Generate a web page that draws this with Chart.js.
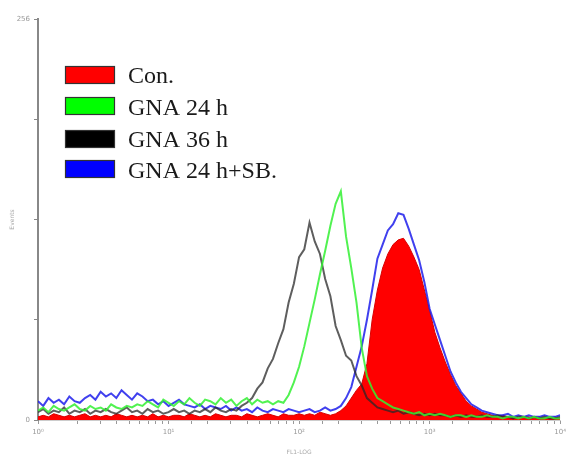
<!DOCTYPE html>
<html><head><meta charset="utf-8">
<style>html,body{margin:0;padding:0;background:#fff;}#wrap{width:570px;height:456px;position:relative;}</style>
<script src="https://cdn.jsdelivr.net/npm/chart.js@4/dist/chart.umd.min.js"></script>
</head><body><div id="wrap"><canvas id="c" width="570" height="456"></canvas></div>
<script>
// Series names (legend order)
const seriesNames = ['Con.', 'GNA 24 h', 'GNA 36 h', 'GNA 24 h+SB.'];
// Log-channel spacing: one value every 0.04 decade from 10^0 to 10^4 (101 channels)
const channelStep = 0.04;
const decadeTicks = [1, 10, 100, 1000, 10000];
const decadeLabels = ['10\u2070', '10\u00B9', '10\u00B2', '10\u00B3', '10\u2074'];
const yTickLabels = [0, 256];

const con = [
 2,3,2,4,3,2,3,2,3,4, 2,3,2,3,2,4,3,2,3,2, 3,2,4,2,3,2,3,3,2,4,
 3,2,3,2,4,3,2,3,3,2, 4,3,2,3,4,3,2,4,3,3, 4,3,4,3,5,4,3,
 4,6,9,14,19,23,36,64,83,97, 106,112,115,116,111,104,96,83,70,56, 46,37,29,22,17,12,9,7,5,4,
 3,2,3,2,2,1,2,2,1,2,1,1,2,1
];
const gna24 = [
 6,8,5,9,7,6,8,10,7,6,9,7,8,6,10,8,7,9,8,10,
 9,12,10,8,13,11,9,12,10,14,11,9,13,12,10,14,11,13,9,12,14,10,13,11,12,10,12,
 11,16,24,34,47,62,77,93,108,124,138,146,117,97,75,46,28,20,14,12,10,8,7,6,5,
 4,5,3,4,3,4,3,2,3,3,2,3,2,2,3,2,2,1,2,2,1,2,1,2,1,1,2,1,1
];
const gna36 = [
 5,7,4,6,5,8,4,6,5,7, 4,6,5,7,5,4,6,8,5,6, 4,7,5,6,4,5,7,5,6,4, 6,5,7,5,8,6,5,7,6,9,
 11,14,20,24,33,39,49,58,75,87,104,109,126,114,106,90,79,60,51,41,38,28,22,14,11,8,7,6,
 5,6,4,5,4,3,4,3,4,3,3,2,3,2,3,2,2,3,2,2,3,2,2,1,2,2,1,2,1,2,1,1,2
];
const gna24sb = [
 12,9,14,11,13,10,15,12,11,14,
 16,13,18,15,17,14,19,16,13,17,15,12,
 13,10,12,9,11,13,10,9,
 8,10,7,9,8,7,9,6,8,
 6,7,5,8,6,5,7,6,5,7,6,5,6,7,5,6,8,6,7,9,
 14,21,34,47,64,83,103,112,121,125,132,131,122,112,102,88,71,61,51,41,31,24,18,14,10,8,6,5,
 4,3,3,4,2,3,2,3,2,2,3,2,2,3
];

const channels = con.map((_, i) => Math.pow(10, i * channelStep));
const toPts = arr => arr.map((v, i) => ({x: channels[i], y: v}));

const legendColors = ['#ff0000', '#00ff00', '#000000', '#0000ff'];

const legendPlugin = {
  id: 'boxLegend',
  afterDraw(chart) {
    const ctx = chart.ctx;
    const boxX = 65, boxW = 50, boxH = 18;
    const boxTops = [66, 97, 130, 160];
    const baselines = [83, 115, 147, 178];
    ctx.save();
    seriesNames.forEach((name, i) => {
      ctx.fillStyle = legendColors[i];
      ctx.fillRect(boxX, boxTops[i], boxW, boxH);
      ctx.strokeStyle = '#333';
      ctx.lineWidth = 1.2;
      ctx.strokeRect(boxX + 0.5, boxTops[i] + 0.5, boxW - 1, boxH - 1);
      ctx.fillStyle = '#1a1a1a';
      ctx.font = '24px "Liberation Serif", "Times New Roman", serif';
      ctx.textBaseline = 'alphabetic';
      ctx.textAlign = 'left';
      ctx.fillText(name, 128, baselines[i]);
    });
    ctx.restore();
  }
};

new Chart(document.getElementById('c'), {
  type: 'line',
  data: {
    datasets: [
      { label: seriesNames[0], data: toPts(con), borderColor: '#d80000', backgroundColor: '#ff0000',
        fill: 'origin', borderWidth: 1, pointRadius: 0, tension: 0, order: 4 },
      { label: seriesNames[1], data: toPts(gna24), borderColor: 'rgba(50,240,50,0.85)',
        fill: false, borderWidth: 2, pointRadius: 0, tension: 0, order: 1 },
      { label: seriesNames[2], data: toPts(gna36), borderColor: 'rgba(40,40,40,0.75)',
        fill: false, borderWidth: 2, pointRadius: 0, tension: 0, order: 2 },
      { label: seriesNames[3], data: toPts(gna24sb), borderColor: 'rgba(30,30,235,0.85)',
        fill: false, borderWidth: 2, pointRadius: 0, tension: 0, order: 3 }
    ]
  },
  options: {
    responsive: false,
    animation: false,
    devicePixelRatio: 1,
    layout: { padding: { left: 0, right: 4, top: 19, bottom: 0 } },
    plugins: { legend: { display: false }, tooltip: { enabled: false } },
    scales: {
      x: {
        type: 'logarithmic', min: 1, max: 10000, position: 'bottom',
        afterFit: s => { s.height = 36; },
        ticks: {
          autoSkip: false, maxRotation: 0, minRotation: 0, padding: 4,
          color: '#999', font: { size: 7, family: 'DejaVu Sans' },
          callback: function(v) {
            const k = decadeTicks.indexOf(Number(v));
            return k >= 0 ? decadeLabels[k] : '';
          }
        },
        grid: { drawOnChartArea: false, drawTicks: true, tickLength: 4, color: '#999' },
        border: { display: true, color: '#ccc', width: 1 },
        title: { display: true, text: 'FL1-LOG', color: '#aaa', font: { size: 6, family: 'DejaVu Sans' }, padding: { top: 2, bottom: 0 } }
      },
      y: {
        min: 0, max: 256,
        afterFit: s => { s.width = 38; },
        ticks: {
          stepSize: 64, color: '#999', font: { size: 7, family: 'DejaVu Sans' }, padding: 4,
          callback: v => yTickLabels.includes(v) ? String(v) : ''
        },
        grid: { drawOnChartArea: false, drawTicks: true, tickLength: 4, color: '#888' },
        border: { display: true, color: '#888', width: 2 },
        title: { display: true, text: 'Events', color: '#aaa', font: { size: 6, family: 'DejaVu Sans' }, padding: { top: 9, bottom: 0 } }
      }
    }
  },
  plugins: [legendPlugin]
});
</script>
</body></html>
